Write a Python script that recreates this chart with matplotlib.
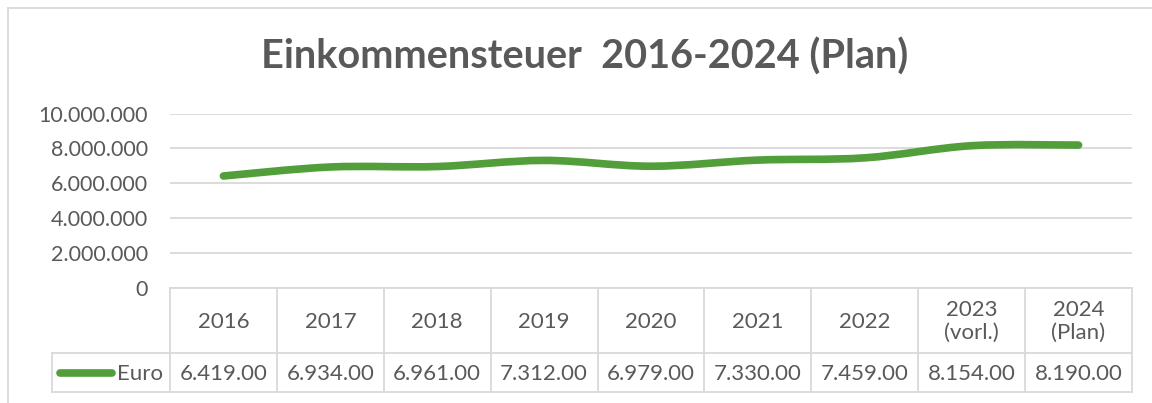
import matplotlib
matplotlib.use("Agg")
import matplotlib.pyplot as plt
from matplotlib.lines import Line2D
from matplotlib.path import Path
from matplotlib.patches import PathPatch
import matplotlib.transforms as mtransforms

plt.rcParams['font.family'] = ['Lato', 'DejaVu Sans']

# ---- data ----
categories = ["2016", "2017", "2018", "2019", "2020", "2021", "2022", "2023\n(vorl.)", "2024\n(Plan)"]
euro = [6419000, 6934000, 6961000, 7312000, 6979000, 7330000, 7459000, 8154000, 8190000]
series_name = "Euro"
y_ticks = [0, 2000000, 4000000, 6000000, 8000000, 10000000]
title = "Einkommensteuer  2016-2024 (Plan)"

GREEN = "#529E3A"
TEXT = "#595959"
GRID = "#D9D9D9"

W, H = 1152, 403
fig = plt.figure(figsize=(W / 100, H / 100), dpi=100)

def fx(px):
    return px / W

def fy(py):
    return 1 - py / H

# chart border
fig.add_artist(Line2D([fx(7.5), fx(7.5)], [fy(7.5), 0], color=GRID, lw=1.3))
fig.add_artist(Line2D([fx(7.5), 1], [fy(7.5), fy(7.5)], color=GRID, lw=1.3))

# plot area
left, right, top, bottom = 170, 1132, 113.5, 288
ax = fig.add_axes([fx(left), fy(bottom), fx(right - left), (bottom - top) / H])
x = list(range(len(euro)))

# smoothed line (Catmull-Rom style Bezier through the data points, as Excel's smoothed line)
verts = [(x[0], euro[0])]
codes = [Path.MOVETO]
n = len(euro)
for i in range(n - 1):
    p0 = (x[max(i - 1, 0)], euro[max(i - 1, 0)])
    p1 = (x[i], euro[i])
    p2 = (x[i + 1], euro[i + 1])
    p3 = (x[min(i + 2, n - 1)], euro[min(i + 2, n - 1)])
    c1 = (p1[0] + (p2[0] - p0[0]) / 6, p1[1] + (p2[1] - p0[1]) / 6)
    c2 = (p2[0] - (p3[0] - p1[0]) / 6, p2[1] - (p3[1] - p1[1]) / 6)
    verts += [c1, c2, p2]
    codes += [Path.CURVE4] * 3
patch = PathPatch(Path(verts, codes), facecolor='none', edgecolor=GREEN, lw=5.5,
                  capstyle='round', joinstyle='round', zorder=3)
ax.add_patch(patch)

ax.set_xlim(-0.5, n - 0.5)
ax.set_ylim(y_ticks[0], y_ticks[-1])
ax.set_yticks(y_ticks)
ax.set_yticklabels([f"{v:,.0f}".replace(",", ".") for v in y_ticks], color=TEXT, fontsize=15.5)
ax.tick_params(axis='y', length=0, pad=16)
ax.set_xticks([])
ax.grid(axis='y', color=GRID, lw=1.3)
for s in ax.spines.values():
    s.set_visible(False)
ax.set_axisbelow(True)

fig.text(fx(585), fy(57), title, ha='center', va='center', fontsize=28.5, fontweight='bold', color=TEXT)

# ---- data table under the axis ----
trans = mtransforms.blended_transform_factory(ax.transData, fig.transFigure)
row1_bot, row2_bot = 353, 392
fig.add_artist(Line2D([fx(left), fx(right)], [fy(bottom), fy(bottom)], color=GRID, lw=1.3))
fig.add_artist(Line2D([fx(52), fx(right)], [fy(row1_bot), fy(row1_bot)], color=GRID, lw=1.3))
fig.add_artist(Line2D([fx(52), fx(right)], [fy(row2_bot), fy(row2_bot)], color=GRID, lw=1.3))
for i in range(n + 1):
    ax.add_artist(Line2D([i - 0.5, i - 0.5], [fy(bottom), fy(row2_bot)], transform=trans,
                         color=GRID, lw=1.3, clip_on=False))
fig.add_artist(Line2D([fx(52), fx(52)], [fy(row1_bot), fy(row2_bot)], color=GRID, lw=1.3))

def clip_label(v):
    s = f"{v:,.0f}".replace(",", ".")
    return s[:-1]  # as displayed in the narrow table cells

for i, (c, v) in enumerate(zip(categories, euro)):
    ax.text(i, fy((bottom + row1_bot) / 2 + 1), c, transform=trans, ha='center', va='center',
            fontsize=16, color=TEXT, linespacing=1.2, clip_on=False)
    ax.text(i, fy((row1_bot + row2_bot) / 2 + 1), clip_label(v), transform=trans, ha='center',
            va='center', fontsize=16, color=TEXT, clip_on=False)

# legend key in table
ly = fy((row1_bot + row2_bot) / 2)
fig.add_artist(Line2D([fx(60), fx(112)], [ly, ly], color=GREEN, lw=5.5, solid_capstyle='round'))
fig.text(fx(163), fy((row1_bot + row2_bot) / 2 + 1), series_name, ha='right', va='center',
         fontsize=16, color=TEXT)

fig.savefig("out.png", dpi=100)
